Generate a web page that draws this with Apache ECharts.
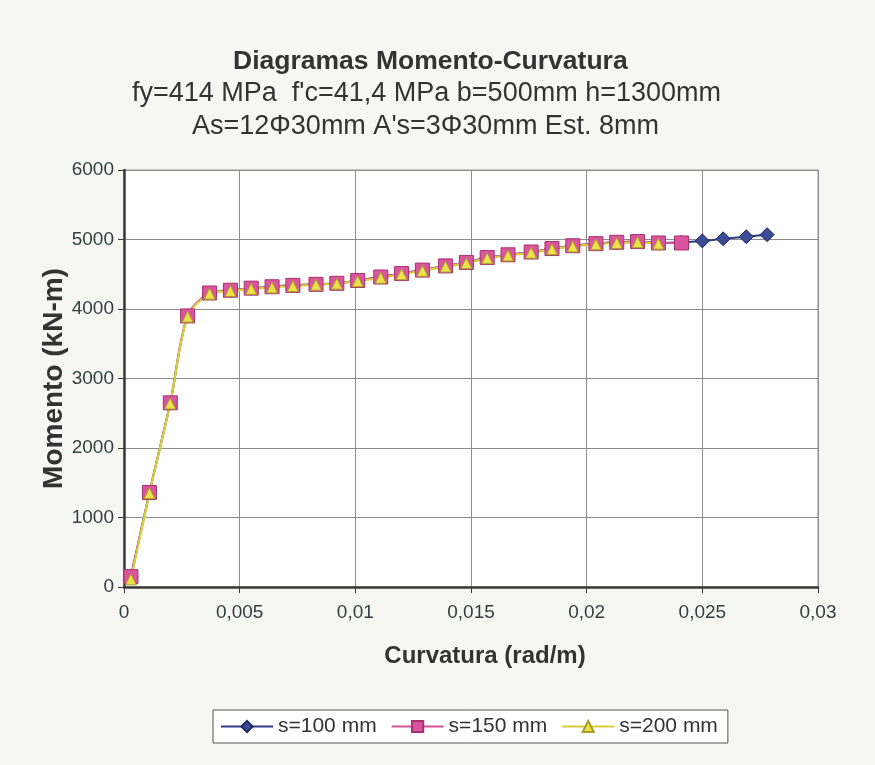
<!DOCTYPE html>
<html>
<head>
<meta charset="utf-8">
<script src="https://cdn.jsdelivr.net/npm/echarts@6/dist/echarts.min.js"></script>
<style>
html,body{margin:0;padding:0;background:#f6f6f3;}
#c{width:875px;height:765px;}
</style>
</head>
<body>
<div id="c"></div>
<script>
// Data
const titleLines = [
  'Diagramas Momento-Curvatura',
  "fy=414 MPa  f'c=41,4 MPa b=500mm h=1300mm",
  "As=12Φ30mm A's=3Φ30mm Est. 8mm"
];
const seriesNames = ['s=100 mm', 's=150 mm', 's=200 mm'];

const curv100 = [0.0003, 0.0011, 0.0020, 0.00275, 0.0037, 0.0046, 0.0055, 0.0064, 0.0073, 0.0083, 0.0092, 0.0101, 0.0111, 0.0120, 0.0129, 0.0139, 0.0148, 0.0157, 0.0166, 0.0176, 0.0185, 0.0194, 0.0204, 0.0213, 0.0222, 0.0231, 0.0241, 0.0250, 0.0259, 0.0269, 0.0278];
const mom100  = [150, 1360, 2650, 3900, 4230, 4270, 4300, 4320, 4340, 4355, 4370, 4410, 4460, 4510, 4560, 4620, 4670, 4740, 4780, 4820, 4870, 4910, 4940, 4960, 4970, 4950, 4960, 4980, 5010, 5040, 5070];

const curv150 = [0.0003, 0.0011, 0.0020, 0.00275, 0.0037, 0.0046, 0.0055, 0.0064, 0.0073, 0.0083, 0.0092, 0.0101, 0.0111, 0.0120, 0.0129, 0.0139, 0.0148, 0.0157, 0.0166, 0.0176, 0.0185, 0.0194, 0.0204, 0.0213, 0.0222, 0.0231, 0.0241];
const mom150  = [150, 1360, 2650, 3900, 4230, 4270, 4300, 4320, 4340, 4355, 4370, 4410, 4460, 4510, 4560, 4620, 4670, 4740, 4780, 4820, 4870, 4910, 4940, 4960, 4970, 4950, 4950];

const curv200 = [0.0003, 0.0011, 0.0020, 0.00275, 0.0037, 0.0046, 0.0055, 0.0064, 0.0073, 0.0083, 0.0092, 0.0101, 0.0111, 0.0120, 0.0129, 0.0139, 0.0148, 0.0157, 0.0166, 0.0176, 0.0185, 0.0194, 0.0204, 0.0213, 0.0222, 0.0231];
const mom200  = [110, 1350, 2640, 3890, 4220, 4260, 4290, 4310, 4330, 4350, 4365, 4400, 4450, 4500, 4550, 4610, 4660, 4730, 4770, 4810, 4860, 4900, 4930, 4950, 4960, 4940];

const xTicks = {min: 0, max: 0.03, interval: 0.005};
const yTicks = {min: 0, max: 6000, interval: 1000};

function pairs(xs, ys){ return xs.map((x,i)=>[x, ys[i]]); }

const FONT = '"Liberation Sans", Arial, sans-serif';
const chart = echarts.init(document.getElementById('c'), null, {renderer:'canvas'});

const option = {
  backgroundColor: '#f6f6f3',
  animation: false,
  title: [
    {text: titleLines[0], left: 233, top: 48, padding: 0,
     textStyle: {fontFamily: FONT, fontSize: 26.5, fontWeight: 'bold', color: '#333'}},
    {text: titleLines[1], left: 132, top: 80, padding: 0,
     textStyle: {fontFamily: FONT, fontSize: 27, fontWeight: 'normal', color: '#333'}},
    {text: titleLines[2], left: 192, top: 113, padding: 0,
     textStyle: {fontFamily: FONT, fontSize: 27, fontWeight: 'normal', color: '#333'}}
  ],
  grid: {left: 124, right: 57, top: 170, bottom: 178, show: true,
         backgroundColor: '#ffffff', borderColor: '#9a9a9a', borderWidth: 1},
  legend: {
    data: seriesNames, bottom: 22, left: 213,
    itemWidth: 52, itemHeight: 14, itemGap: 14,
    padding: [6, 10, 6, 7],
    backgroundColor: '#ffffff', borderColor: '#555', borderWidth: 1,
    textStyle: {fontFamily: FONT, fontSize: 21, color: '#333'}
  },
  xAxis: {
    type: 'value', min: xTicks.min, max: xTicks.max, interval: xTicks.interval,
    name: 'Curvatura (rad/m)', nameLocation: 'middle', nameGap: 57,
    nameTextStyle: {fontFamily: FONT, fontSize: 24, fontWeight: 'bold', color: '#333', padding: [0, 0, 0, 28]},
    axisLine: {show: true, lineStyle: {color: '#3a3a3a', width: 2.5}},
    axisTick: {show: true, length: 6, lineStyle: {color: '#3a3a3a'}},
    axisLabel: {fontFamily: FONT, fontSize: 19, color: '#334040', margin: 16,
      formatter: v => v === 0 ? '0' : String(+v.toFixed(4)).replace('.', ',')},
    splitLine: {show: true, lineStyle: {color: '#8c8c8c', width: 1}}
  },
  yAxis: {
    type: 'value', min: yTicks.min, max: yTicks.max, interval: yTicks.interval,
    name: 'Momento (kN-m)', nameLocation: 'middle', nameGap: 56, nameMoveOverlap: false,
    nameTextStyle: {fontFamily: FONT, fontSize: 28, fontWeight: 'bold', color: '#333'},
    axisLine: {show: true, lineStyle: {color: '#3a3a3a', width: 2.5}},
    axisTick: {show: true, length: 6, lineStyle: {color: '#3a3a3a'}},
    axisLabel: {fontFamily: FONT, fontSize: 19, color: '#334040', margin: 10,
      formatter: v => String(v)},
    splitLine: {show: true, lineStyle: {color: '#8c8c8c', width: 1}}
  },
  series: [
    {name: seriesNames[0], type: 'line', data: pairs(curv100, mom100), smooth: 0.3,
     symbol: 'diamond', symbolSize: 14,
     lineStyle: {color: '#2c3d85', width: 2},
     itemStyle: {color: '#3a4c96', borderColor: '#1e2a60', borderWidth: 1}},
    {name: seriesNames[1], type: 'line', data: pairs(curv150, mom150), smooth: 0.3,
     symbol: 'rect', symbolSize: 14,
     lineStyle: {color: '#d5509a', width: 2},
     itemStyle: {color: '#d9559e', borderColor: '#a8326f', borderWidth: 1}},
    {name: seriesNames[2], type: 'line', data: pairs(curv200, mom200), smooth: 0.3,
     symbol: 'triangle', symbolSize: 11,
     lineStyle: {color: '#d6cf3c', width: 2.2},
     itemStyle: {color: '#ebe24a', borderColor: '#a89c2a', borderWidth: 1}}
  ]
};
chart.setOption(option);
</script>
</body>
</html>
